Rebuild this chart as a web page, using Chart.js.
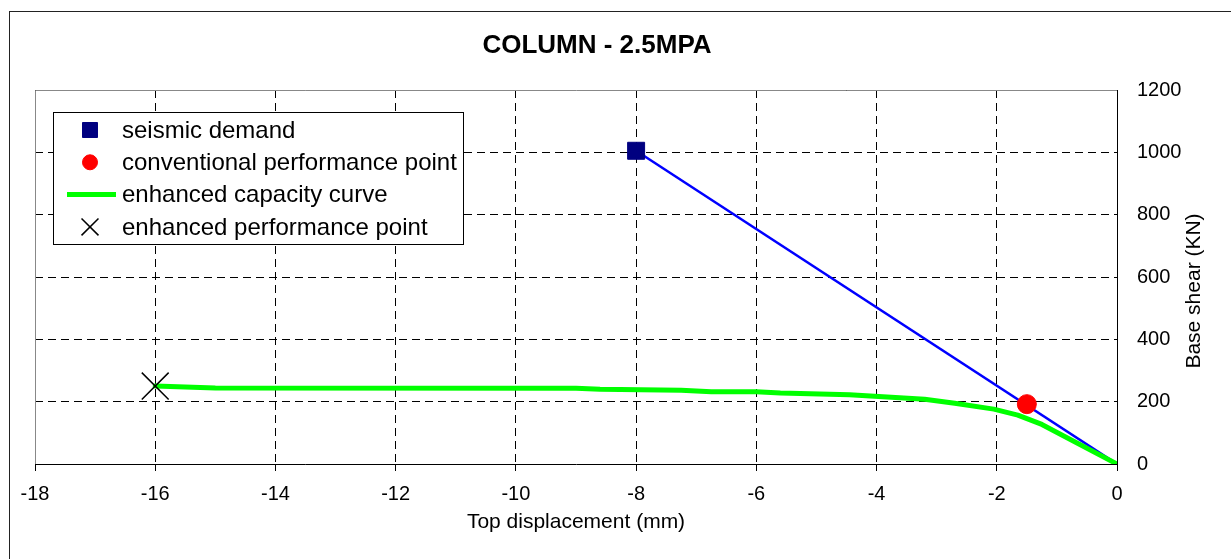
<!DOCTYPE html>
<html>
<head>
<meta charset="utf-8">
<script src="https://cdn.jsdelivr.net/npm/chart.js@4/dist/chart.umd.min.js"></script>
<style>
  html, body { margin: 0; padding: 0; background: #fff; overflow: hidden; }
  #wrap { position: relative; width: 1231px; height: 559px; }
  #canvas { display: block; }
  #frame { position: absolute; left: 9px; top: 11px; width: 1300px; height: 700px; border: 1px solid #222; pointer-events: none; }
</style>
</head>
<body>
<div id="wrap">
  <canvas id="canvas" width="1231" height="559"></canvas>
  <div id="frame"></div>
</div>
<script>
var FONT = "'Liberation Sans', Arial, sans-serif";

// seismic demand (square) and its line to the origin
var demandX = [-8];
var demandY = [1005];
var demandLineX = [-8, 0];
var demandLineY = [1005, 0];

// conventional performance point
var convX = [-1.5];
var convY = [192];

// enhanced capacity curve
var capX = [-16, -15, -9, -8.6, -7.25, -6.75, -6, -5.6, -4.45, -3.2, -2.7, -2.05, -1.65, -1.25, 0];
var capY = [250, 244, 243, 240, 237, 232, 232, 228, 222, 208, 195, 176, 157, 127, 0];

// enhanced performance point
var enhX = [-16];
var enhY = [250];

// axes
var xMin = -18, xMax = 0, xStep = 2;
var yMin = 0, yMax = 1200, yStep = 200;

var toPoints = function(xs, ys) {
	return xs.map(function(x, i) { return {x: x, y: ys[i]}; });
};

// gray frame on top/left of the plot area (like excel)
var plotFrame = {
	id: 'plotFrame',
	// titulo centrado um pouco a esquerda, como no original
	afterLayout: function(chart) {
		var t = chart.titleBlock;
		if (t) t.right = t.left + 2 * (597 - t.left);
	},
	beforeDatasetsDraw: function(chart) {
		var a = chart.chartArea, ctx = chart.ctx;
		ctx.save();
		ctx.strokeStyle = '#888';
		ctx.lineWidth = 1;
		ctx.beginPath();
		ctx.moveTo(Math.round(a.left) + 0.5, Math.round(a.bottom));
		ctx.lineTo(Math.round(a.left) + 0.5, Math.round(a.top) + 0.5);
		ctx.lineTo(Math.round(a.right), Math.round(a.top) + 0.5);
		ctx.stroke();
		ctx.restore();
	}
};

// y title reads bottom->top, chart.js right axis draws it the other way
var yTitle = {
	id: 'yTitle',
	afterDraw: function(chart) {
		var ctx = chart.ctx;
		var txt = chart.options.scales.y.title.text;
		ctx.save();
		ctx.translate(1194, 291);
		ctx.rotate(-Math.PI / 2);
		ctx.font = '21px ' + FONT;
		ctx.fillStyle = '#000';
		ctx.textAlign = 'center';
		ctx.textBaseline = 'middle';
		ctx.fillText(txt, 0, 0);
		ctx.restore();
	}
};

// boxed legend inside the plot area
var boxLegend = {
	id: 'boxLegend',
	afterDraw: function(chart) {
		var ctx = chart.ctx;
		var items = chart.data.datasets.filter(function(d) { return !d.noLegend; });
		ctx.save();
		ctx.fillStyle = '#fff';
		ctx.fillRect(53.5, 112.5, 410, 132);
		ctx.strokeStyle = '#000';
		ctx.lineWidth = 1;
		ctx.strokeRect(53.5, 112.5, 410, 132);
		items.forEach(function(d, i) {
			var cy = 130 + i * 32.3;
			ctx.save();
			if (d.showLine) {
				ctx.strokeStyle = d.borderColor;
				ctx.lineWidth = d.borderWidth;
				ctx.beginPath();
				ctx.moveTo(67, cy);
				ctx.lineTo(116, cy);
				ctx.stroke();
			} else {
				ctx.fillStyle = d.pointBackgroundColor;
				ctx.strokeStyle = d.pointBorderColor;
				ctx.lineWidth = d.pointBorderWidth;
				Chart.helpers.drawPoint(ctx, {
					pointStyle: d.pointStyle,
					radius: d.legendRadius,
					borderWidth: d.pointBorderWidth,
					rotation: 0
				}, 90, cy);
			}
			ctx.restore();
			ctx.font = '24px ' + FONT;
			ctx.fillStyle = '#000';
			ctx.textBaseline = 'middle';
			ctx.fillText(d.label, 122, cy + 1);
		});
		ctx.restore();
	}
};

var ctx = document.getElementById('canvas').getContext('2d');
window.pushoverChart = new Chart(ctx, {
	type: 'scatter',
	data: {
		datasets: [{
			label: 'seismic demand',
			data: toPoints(demandX, demandY),
			pointStyle: 'rect',
			pointRadius: 12,
			legendRadius: 10.6,
			pointBackgroundColor: '#000080',
			pointBorderColor: '#000080',
			pointBorderWidth: 1,
			order: 0
		}, {
			label: 'conventional performance point',
			data: toPoints(convX, convY),
			pointStyle: 'circle',
			pointRadius: 9.5,
			legendRadius: 7.5,
			pointBackgroundColor: '#ff0000',
			pointBorderColor: '#ff0000',
			pointBorderWidth: 1,
			order: 0
		}, {
			label: 'enhanced capacity curve',
			data: toPoints(capX, capY),
			showLine: true,
			borderColor: '#00ff00',
			borderWidth: 5,
			pointRadius: 0,
			tension: 0,
			borderJoinStyle: 'round',
			borderCapStyle: 'round',
			order: 1
		}, {
			label: 'enhanced performance point',
			data: toPoints(enhX, enhY),
			pointStyle: 'crossRot',
			pointRadius: 19,
			legendRadius: 12,
			pointBackgroundColor: '#000',
			pointBorderColor: '#000',
			pointBorderWidth: 1.5,
			order: 0
		}, {
			label: 'demand line',
			noLegend: true,
			data: toPoints(demandLineX, demandLineY),
			showLine: true,
			borderColor: '#0000ff',
			borderWidth: 2.5,
			pointRadius: 0,
			tension: 0,
			order: 2
		}]
	},
	options: {
		responsive: false,
		animation: false,
		layout: {
			padding: {left: 35, right: 0, top: 0, bottom: 0}
		},
		plugins: {
			legend: {display: false},
			tooltip: {enabled: false},
			title: {
				display: true,
				text: 'COLUMN - 2.5MPA',
				color: '#000',
				font: {family: FONT, size: 26, weight: 'bold'},
				padding: {top: 30, bottom: 28.8}
			}
		},
		scales: {
			x: {
				type: 'linear',
				min: xMin,
				max: xMax,
				afterFit: function(scale) { scale.height = 95; },
				ticks: {
					stepSize: xStep,
					color: '#000',
					padding: 11,
					font: {family: FONT, size: 20},
					callback: function(v) { return String(v); }
				},
				grid: {color: '#000', lineWidth: 1, tickLength: 7, drawTicks: true},
				border: {display: true, color: '#000', width: 1, dash: [8, 5]},
				title: {
					display: true,
					text: 'Top displacement (mm)',
					color: '#000',
					font: {family: FONT, size: 21},
					padding: {top: 0, bottom: 24}
				}
			},
			y: {
				type: 'linear',
				position: 'right',
				min: yMin,
				max: yMax,
				afterFit: function(scale) { scale.width = 114; },
				ticks: {
					stepSize: yStep,
					color: '#000',
					padding: 20,
					font: {family: FONT, size: 20},
					callback: function(v) { return String(v); }
				},
				grid: {color: '#000', lineWidth: 1, drawTicks: false},
				border: {display: true, color: '#000', width: 1, dash: [8, 5]},
				title: {display: false, text: 'Base shear (KN)'}
			}
		}
	},
	plugins: [plotFrame, boxLegend, yTitle]
});
</script>
</body>
</html>
